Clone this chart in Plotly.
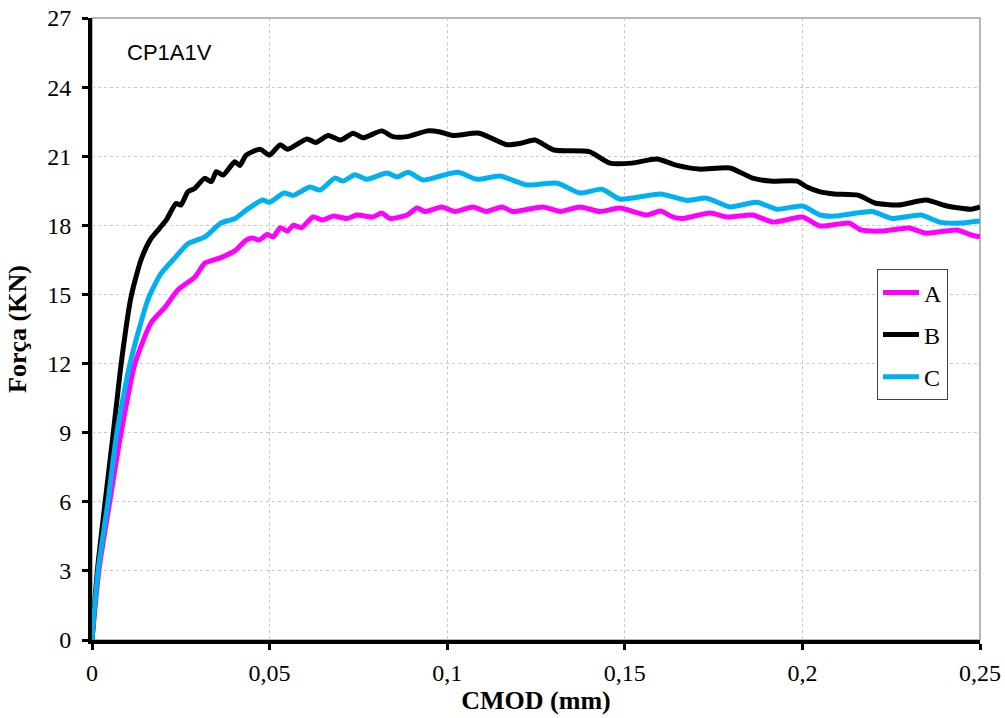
import plotly.graph_objects as go

# ---- data ----
a_x = [0, 0.002, 0.005, 0.0082, 0.0121, 0.0166, 0.0206, 0.0242, 0.029, 0.0318, 0.0363, 0.0403, 0.0434,
       0.0453, 0.047, 0.0493, 0.051, 0.053, 0.055, 0.0566, 0.059, 0.0622, 0.065, 0.0678, 0.0718, 0.0746,
       0.079, 0.0816, 0.0839, 0.0887, 0.0915, 0.0937, 0.0985, 0.1022, 0.1073, 0.111, 0.1154, 0.1185,
       0.127, 0.1318, 0.1374, 0.143, 0.1486, 0.1563, 0.16, 0.1636, 0.1664, 0.174, 0.1788, 0.186,
       0.1917, 0.2, 0.205, 0.2131, 0.2165, 0.2224, 0.23, 0.2348, 0.2435, 0.2475, 0.25]
a_y = [0, 3.1, 6.0, 9.0, 12.0, 13.76, 14.45, 15.2, 15.76, 16.36, 16.6, 16.9, 17.36,
       17.45, 17.36, 17.6, 17.5, 17.9, 17.75, 18.0, 17.9, 18.36, 18.23, 18.4, 18.3, 18.45,
       18.36, 18.53, 18.3, 18.45, 18.75, 18.6, 18.8, 18.6, 18.8, 18.6, 18.8, 18.6,
       18.8, 18.6, 18.8, 18.6, 18.75, 18.45, 18.62, 18.36, 18.3, 18.53, 18.36, 18.45,
       18.14, 18.36, 17.97, 18.1, 17.8, 17.75, 17.88, 17.66, 17.8, 17.58, 17.5]

b_x = [0, 0.0015, 0.0037, 0.006, 0.0083, 0.011, 0.0138, 0.0165, 0.019, 0.0209, 0.0237, 0.025, 0.027,
       0.0289, 0.0317, 0.0336, 0.035, 0.0369, 0.0402, 0.0416, 0.0434, 0.0473, 0.050, 0.053, 0.055,
       0.0605, 0.063, 0.0665, 0.070, 0.0735, 0.0763, 0.0816, 0.0847, 0.0887, 0.0945, 0.098, 0.1016,
       0.109, 0.1168, 0.121, 0.1247, 0.130, 0.140, 0.1458, 0.152, 0.159, 0.1647, 0.171, 0.1796,
       0.186, 0.191, 0.1985, 0.2013, 0.205, 0.209, 0.2157, 0.2204, 0.227, 0.2348, 0.2407, 0.2475, 0.25]
b_y = [0, 3.0, 6.0, 9.0, 12.1, 14.9, 16.5, 17.4, 17.87, 18.23, 18.95, 18.88, 19.46,
       19.6, 20.04, 19.9, 20.33, 20.18, 20.76, 20.6, 21.05, 21.3, 21.05, 21.5, 21.3,
       21.75, 21.6, 21.9, 21.7, 22.0, 21.8, 22.1, 21.85, 21.85, 22.1, 22.05, 21.9,
       22.0, 21.5, 21.57, 21.7, 21.27, 21.2, 20.7, 20.7, 20.88, 20.6, 20.44, 20.49,
       20.05, 19.92, 19.92, 19.66, 19.45, 19.36, 19.31, 18.97, 18.88, 19.1, 18.84, 18.7, 18.8]

c_x = [0, 0.0017, 0.0045, 0.007, 0.0107, 0.0158, 0.0194, 0.0234, 0.027, 0.0318, 0.0363, 0.0403, 0.0434,
       0.048, 0.050, 0.054, 0.0566, 0.0614, 0.0642, 0.0684, 0.0707, 0.074, 0.0774, 0.083, 0.0859,
       0.089, 0.0932, 0.098, 0.103, 0.1084, 0.1149, 0.1225, 0.131, 0.1374, 0.1436, 0.1486, 0.16,
       0.1675, 0.173, 0.1796, 0.1872, 0.1928, 0.2, 0.205, 0.209, 0.2196, 0.2252, 0.2334, 0.2387,
       0.2444, 0.25]
c_y = [0, 3.0, 6.0, 9.0, 12.0, 14.8, 15.9, 16.6, 17.2, 17.5, 18.1, 18.3, 18.66,
       19.1, 19.0, 19.4, 19.3, 19.66, 19.53, 20.05, 19.92, 20.2, 20.0, 20.27, 20.1,
       20.3, 19.97, 20.14, 20.3, 20.0, 20.14, 19.75, 19.83, 19.4, 19.57, 19.14, 19.36,
       19.08, 19.18, 18.8, 19.0, 18.7, 18.84, 18.45, 18.4, 18.6, 18.3, 18.45, 18.14,
       18.1, 18.19]

series_names = ["A", "B", "C"]
series_colors = ["#FF00FF", "#000000", "#00B0F0"]
x_ticks = [0, 0.05, 0.1, 0.15, 0.2, 0.25]
x_tick_labels = ["0", "0,05", "0,1", "0,15", "0,2", "0,25"]
y_ticks = [0, 3, 6, 9, 12, 15, 18, 21, 24, 27]

serif = "Liberation Serif, Times New Roman, serif"
sans = "Liberation Sans, Arial, sans-serif"

fig = go.Figure()
for name, xs, ys, col in zip(series_names, [a_x, b_x, c_x], [a_y, b_y, c_y], series_colors):
    fig.add_trace(go.Scatter(x=xs, y=ys, mode="lines", name=name, legendgroup=name,
                             line=dict(color=col, width=5, shape="spline", smoothing=0.6)))

fig.update_layout(
    width=1005, height=718,
    margin=dict(l=92, r=25, t=18, b=78, autoexpand=False),
    paper_bgcolor="white", plot_bgcolor="white",
    font=dict(family=serif, size=24, color="black"),
    showlegend=True,
    legend=dict(x=0.884, y=0.596, xanchor="left", yanchor="top",
                bordercolor="#404040", borderwidth=1, bgcolor="white",
                font=dict(family=serif, size=24, color="black"),
                tracegroupgap=8, itemwidth=36),
    xaxis=dict(range=[0, 0.25], tickvals=x_ticks, ticktext=x_tick_labels,
               showline=True, linecolor="black", linewidth=4,
               ticks="outside", ticklen=6, tickwidth=3, tickcolor="black",
               showgrid=True, gridcolor="#c8c8c8", griddash="dot", gridwidth=1,
               zeroline=False, automargin=False, ticklabelstandoff=2,
               ticklabeloverflow="allow",
               title=dict(text="<b>CMOD (mm)</b>", font=dict(family=serif, size=26), standoff=3)),
    yaxis=dict(range=[0, 27], tickvals=y_ticks,
               showline=True, linecolor="black", linewidth=4,
               ticks="outside", ticklen=6, tickwidth=3, tickcolor="black",
               showgrid=True, gridcolor="#c8c8c8", griddash="dot", gridwidth=1,
               zeroline=False, automargin=False, ticklabelstandoff=6,
               ticklabeloverflow="allow",
               title=dict(text="<b>Força (KN)</b>", font=dict(family=serif, size=26), standoff=14)),
)

fig.add_shape(type="rect", xref="paper", yref="paper", x0=0, y0=0, x1=1, y1=1,
              line=dict(color="#a0a0a0", width=1.5), layer="below")

fig.add_annotation(text="CP1A1V", xref="paper", yref="paper", x=0.037, y=0.945,
                   xanchor="left", yanchor="middle", showarrow=False,
                   font=dict(family=sans, size=22, color="black"))

# remove the browser's default 8px page margin so the figure fills the window exactly
fig.write_html("out.html", config={"displayModeBar": False},
               post_script="document.body.style.margin='0';")
